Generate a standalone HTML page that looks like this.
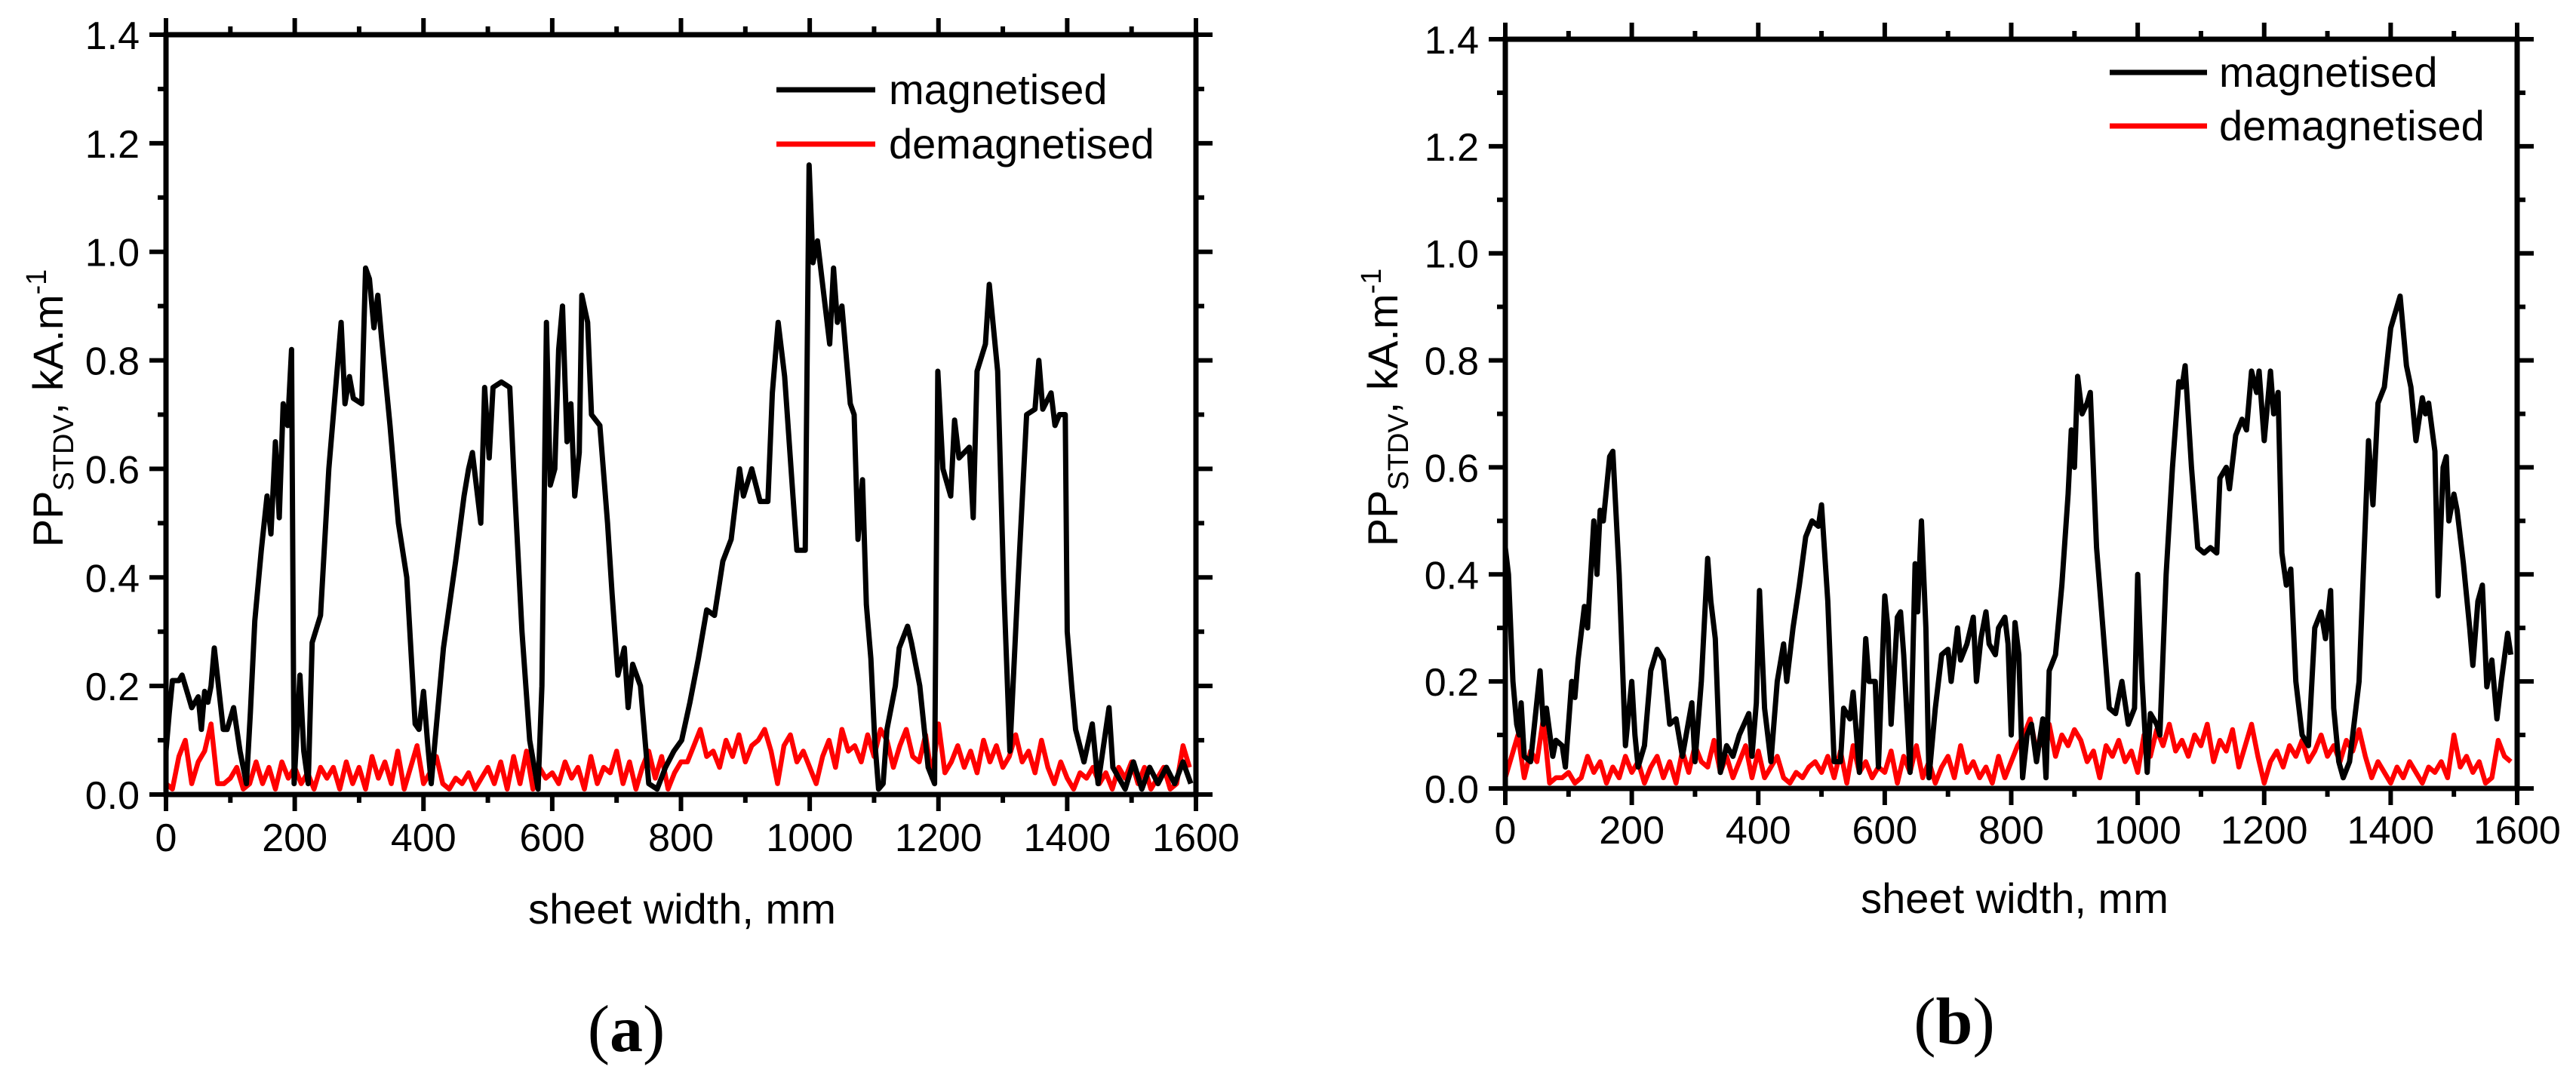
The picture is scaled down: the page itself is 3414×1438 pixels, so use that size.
<!DOCTYPE html>
<html><head><meta charset="utf-8"><style>
html,body{margin:0;padding:0;background:#fff;}
svg{display:block;}
text{font-family:"Liberation Sans",sans-serif;fill:#000;}
</style></head><body>
<svg id="fig" width="3414" height="1438" viewBox="0 0 3414 1438" xmlns="http://www.w3.org/2000/svg"></svg>
<script>
// ---------- Panel (a) data ----------
const aMagX = [0,5,10,20,25,35,40,50,55,60,65,70,75,89,95,105,115,125,131,138,148,157,163,170,176,182,189,195,199,208,214,221,227,240,253,265,272,278,285,291,304,310,316,323,329,335,348,361,374,387,393,400,406,412,418,431,444,450,463,470,476,489,495,502,508,521,534,540,553,565,578,584,591,597,604,610,616,623,629,635,642,646,655,661,674,686,693,702,712,718,725,737,750,763,776,789,801,814,827,840,852,865,878,891,897,910,923,935,942,951,961,974,980,993,999,1005,1012,1024,1031,1037,1043,1050,1063,1069,1075,1082,1088,1095,1101,1107,1114,1120,1133,1139,1152,1158,1171,1184,1194,1199,1207,1219,1225,1232,1248,1254,1260,1273,1279,1292,1301,1311,1324,1337,1350,1356,1362,1375,1381,1388,1397,1400,1407,1413,1426,1439,1448,1465,1471,1490,1503,1516,1528,1541,1554,1567,1580,1592];
const aMag = [0.08,0.15,0.21,0.21,0.22,0.18,0.16,0.18,0.12,0.19,0.17,0.2,0.27,0.12,0.12,0.16,0.08,0.02,0.15,0.32,0.45,0.55,0.48,0.65,0.51,0.72,0.68,0.82,0.02,0.22,0.08,0.02,0.28,0.33,0.6,0.77,0.87,0.72,0.77,0.73,0.72,0.97,0.95,0.86,0.92,0.84,0.68,0.5,0.4,0.13,0.12,0.19,0.1,0.02,0.1,0.27,0.38,0.43,0.55,0.6,0.63,0.5,0.75,0.62,0.75,0.76,0.75,0.6,0.3,0.1,0.01,0.2,0.87,0.57,0.6,0.82,0.9,0.65,0.72,0.55,0.63,0.92,0.87,0.7,0.68,0.5,0.37,0.22,0.27,0.16,0.24,0.2,0.02,0.01,0.05,0.08,0.1,0.17,0.25,0.34,0.33,0.43,0.47,0.6,0.55,0.6,0.54,0.54,0.74,0.87,0.77,0.55,0.45,0.45,1.16,0.98,1.02,0.9,0.83,0.97,0.87,0.9,0.72,0.7,0.47,0.58,0.35,0.25,0.1,0.01,0.02,0.12,0.2,0.27,0.31,0.28,0.2,0.05,0.02,0.78,0.6,0.55,0.69,0.62,0.64,0.51,0.78,0.83,0.94,0.78,0.4,0.08,0.4,0.7,0.71,0.8,0.71,0.74,0.68,0.7,0.7,0.3,0.2,0.12,0.06,0.13,0.02,0.16,0.05,0.01,0.06,0.01,0.05,0.02,0.05,0.02,0.06,0.02];
const aDemagStep = 10;
const aDemag = [0.02,0.01,0.07,0.1,0.02,0.06,0.08,0.13,0.02,0.02,0.03,
0.05,0.01,0.02,0.06,0.02,0.05,0.01,0.06,0.03,0.05,0.02,0.04,0.01,0.05,0.03,0.05,0.01,0.06,0.02,0.05,0.01,0.07,0.03,0.06,0.02,0.08,0.01,0.05,0.09,0.02,
0.04,0.07,0.02,0.01,0.03,0.02,0.04,0.01,0.03,0.05,0.02,0.06,0.01,0.07,0.02,0.08,0.01,0.05,0.03,0.04,0.02,0.06,0.03,0.05,0.01,0.07,0.02,0.05,0.04,0.08,0.02,0.06,0.01,0.05,0.08,0.03,0.07,0.01,0.04,0.06,
0.06,0.09,0.12,0.07,0.08,0.05,0.1,0.07,0.11,0.06,0.09,0.1,0.12,0.08,0.02,0.09,0.11,0.06,0.08,0.05,0.02,0.07,0.1,0.05,0.12,0.08,0.09,0.06,0.11,0.07,0.12,0.1,0.05,0.09,0.12,0.07,0.06,0.11,0.03,0.13,
0.04,0.06,0.09,0.05,0.08,0.04,0.1,0.06,0.09,0.05,0.07,0.11,0.06,0.08,0.04,0.1,0.05,0.02,0.06,0.03,0.01,0.04,0.03,0.05,0.02,0.04,0.01,0.05,0.03,0.06,0.02,0.05,0.01,0.03,0.05,0.01,0.02,0.09,0.05];

// ---------- Panel (b) data ----------
const bMagX = [0,5,12,18,22,25,30,40,55,60,65,75,80,90,95,105,110,115,125,130,140,145,150,155,165,170,180,190,200,205,210,220,230,240,250,260,270,280,295,300,310,320,325,332,340,350,360,370,385,390,397,402,410,420,430,440,445,455,465,475,485,495,500,510,520,530,535,545,550,560,570,575,585,590,600,605,610,620,625,630,640,648,652,658,665,670,680,690,700,705,715,720,730,740,745,752,760,765,775,780,790,795,800,806,812,818,825,832,840,850,855,860,870,880,890,895,900,905,912,920,925,935,945,955,965,975,985,995,1000,1007,1015,1020,1030,1035,1045,1055,1065,1070,1075,1085,1095,1105,1115,1125,1130,1140,1145,1155,1165,1172,1180,1188,1192,1200,1210,1215,1222,1228,1235,1242,1250,1260,1270,1280,1290,1297,1305,1310,1318,1325,1335,1350,1365,1372,1380,1390,1400,1415,1425,1432,1440,1450,1455,1460,1470,1475,1483,1488,1492,1500,1505,1515,1525,1530,1538,1545,1552,1560,1568,1575,1585,1590];
const bMag = [0.45,0.4,0.2,0.12,0.1,0.16,0.06,0.05,0.22,0.12,0.15,0.06,0.09,0.08,0.04,0.2,0.17,0.24,0.34,0.3,0.5,0.4,0.52,0.5,0.62,0.63,0.4,0.08,0.2,0.1,0.04,0.08,0.22,0.26,0.24,0.12,0.13,0.06,0.16,0.05,0.2,0.43,0.35,0.28,0.03,0.08,0.06,0.1,0.14,0.06,0.16,0.37,0.15,0.05,0.2,0.27,0.2,0.3,0.38,0.47,0.5,0.49,0.53,0.35,0.05,0.05,0.15,0.13,0.18,0.03,0.28,0.2,0.2,0.04,0.36,0.3,0.12,0.32,0.33,0.25,0.03,0.42,0.33,0.5,0.3,0.02,0.15,0.25,0.26,0.2,0.3,0.24,0.27,0.32,0.2,0.28,0.33,0.27,0.25,0.3,0.32,0.27,0.1,0.31,0.25,0.02,0.1,0.12,0.05,0.13,0.02,0.22,0.25,0.38,0.55,0.67,0.6,0.77,0.7,0.72,0.74,0.45,0.3,0.15,0.14,0.2,0.12,0.15,0.4,0.2,0.03,0.14,0.12,0.1,0.4,0.6,0.76,0.75,0.79,0.6,0.45,0.44,0.45,0.44,0.58,0.6,0.56,0.66,0.69,0.67,0.78,0.74,0.78,0.65,0.78,0.7,0.74,0.44,0.38,0.41,0.2,0.1,0.08,0.3,0.33,0.28,0.37,0.15,0.05,0.02,0.05,0.2,0.65,0.53,0.72,0.75,0.86,0.92,0.79,0.75,0.65,0.73,0.7,0.72,0.63,0.36,0.6,0.62,0.5,0.55,0.52,0.42,0.3,0.23,0.35,0.38,0.19,0.24,0.13,0.2,0.29,0.25,0.05];
const bDemagStep = 10;
const bDemag = [0.02,0.06,0.1,0.02,0.07,0.05,0.13,0.01,0.02,0.02,0.03,
0.01,0.02,0.06,0.03,0.05,0.01,0.04,0.02,0.06,0.03,0.05,0.01,0.04,0.06,0.02,0.05,0.01,0.07,0.03,0.08,0.05,0.04,0.09,0.03,0.06,0.02,0.05,0.08,0.02,0.07,
0.02,0.04,0.06,0.02,0.01,0.03,0.02,0.04,0.05,0.03,0.06,0.02,0.07,0.01,0.08,0.03,0.05,0.02,0.04,0.03,0.07,0.01,0.06,0.03,0.08,0.02,0.05,0.01,0.04,0.06,0.02,0.08,0.03,0.05,0.02,0.04,0.01,0.06,0.02,0.05,
0.08,0.1,0.13,0.07,0.09,0.12,0.06,0.1,0.08,0.11,0.09,0.05,0.07,0.02,0.08,0.06,0.09,0.05,0.07,0.03,0.1,0.06,0.11,0.08,0.12,0.07,0.09,0.06,0.1,0.08,0.12,0.05,0.09,0.07,0.11,0.04,0.08,0.12,0.06,0.01,
0.05,0.07,0.04,0.08,0.06,0.09,0.05,0.07,0.1,0.06,0.08,0.05,0.09,0.07,0.11,0.06,0.02,0.05,0.03,0.01,0.04,0.02,0.05,0.03,0.01,0.04,0.03,0.05,0.02,0.1,0.04,0.06,0.03,0.05,0.01,0.02,0.09,0.06,0.05];

const xTicks = [0,200,400,600,800,1000,1200,1400,1600];
const yTicks = [0.0,0.2,0.4,0.6,0.8,1.0,1.2,1.4];
const legendLabels = ["magnetised","demagnetised"];

const NS = "http://www.w3.org/2000/svg";
const svg = document.getElementById('fig');
function mk(tag, attrs, parent, txt){
  const e = document.createElementNS(NS, tag);
  for (const k in attrs) e.setAttribute(k, attrs[k]);
  if (txt !== undefined) e.textContent = txt;
  (parent||svg).appendChild(e);
  return e;
}

function panel(P){
  const g = mk('g', {});
  
  
  const sx = v => P.L + (v/1600)*(P.R-P.L);
  const sy = v => P.B - (v/1.4)*(P.B-P.T);

  const dpts = P.demag.map((v,i)=> sx(i*P.step).toFixed(1)+','+sy(v).toFixed(1)).join(' ');
  const red = mk('polyline', {points:dpts, fill:'none', stroke:'#ff0000', 'stroke-width':6.5, 'stroke-linejoin':'round'}, g);
  
  
  const mpts = P.magX.map((x,i)=> sx(x).toFixed(1)+','+sy(P.mag[i]).toFixed(1)).join(' ');
  const blk = mk('polyline', {points:mpts, fill:'none', stroke:'#000', 'stroke-width':7, 'stroke-linejoin':'round'}, g);
  
  

  const fr = mk('rect', {x:P.L, y:P.T, width:P.R-P.L, height:P.B-P.T, fill:'none', stroke:'#000', 'stroke-width':7}, g);
  
  

  for (let v=0; v<=1600; v+=100){
    const major = v % 200 === 0, len = major?22:11, x = sx(v);
    mk('line',{x1:x,y1:P.B,x2:x,y2:P.B+len,stroke:'#000','stroke-width':6},g);
    mk('line',{x1:x,y1:P.T,x2:x,y2:P.T-len,stroke:'#000','stroke-width':6},g);
  }
  for (let k=0; k<=14; k++){
    const v = k/10, major = k%2===0, len = major?22:11, y = sy(v);
    mk('line',{x1:P.L,y1:y,x2:P.L-len,y2:y,stroke:'#000','stroke-width':6},g);
    mk('line',{x1:P.R,y1:y,x2:P.R+len,y2:y,stroke:'#000','stroke-width':6},g);
  }
  xTicks.forEach(v=>{
    const t = mk('text',{x:sx(v), y:P.xLabY, 'font-size':52, 'text-anchor':'middle'}, g, String(v));
    
    
  });
  yTicks.forEach(v=>{
    const t = mk('text',{x:P.L-35, y:sy(v)+19, 'font-size':52, 'text-anchor':'end'}, g, v.toFixed(1));
    
    
  });

  const xt = mk('text',{x:P.xtX, y:P.xtY, 'font-size':56, 'text-anchor':'middle'}, g, 'sheet width, mm');
  
  
  const yt = mk('text',{x:0, y:0, 'font-size':56, 'text-anchor':'middle', transform:'translate('+P.ytX+','+P.ytY+') rotate(-90)'}, g);
  
  
  mk('tspan',{},yt,'PP');
  mk('tspan',{'font-size':38, dy:14},yt,'STDV');
  mk('tspan',{dy:-14},yt,', kA.m');
  mk('tspan',{'font-size':38, dy:-22},yt,'-1');

  const colors = ['#000','#ff0000'];
  legendLabels.forEach((lab,i)=>{
    const lg = mk('g',{},g);
    
    
    const ly = P.legY + i*P.legDy;
    mk('line',{x1:P.legX1, y1:ly, x2:P.legX2, y2:ly, stroke:colors[i], 'stroke-width':7}, lg);
    mk('text',{x:P.legTx, y:ly+19, 'font-size':56}, lg, lab);
  });

  const cap = mk('text',{x:P.capX, y:P.capY, 'font-size':88, 'text-anchor':'middle', style:'font-family:"Liberation Serif",serif'}, g);
  
  
  mk('tspan',{},cap,'(');
  mk('tspan',{'font-weight':'bold'},cap,P.id);
  mk('tspan',{},cap,')');
}

panel({id:'a', L:220, R:1585, T:46, B:1053, magX:aMagX, mag:aMag, demag:aDemag, step:aDemagStep,
  xLabY:1128, xtX:904, xtY:1224, ytX:83, ytY:541,
  legX1:1029, legX2:1160, legTx:1178, legY:119, legDy:72, capX:830, capY:1393});
panel({id:'b', L:1995, R:3336, T:52, B:1045, magX:bMagX, mag:bMag, demag:bDemag, step:bDemagStep,
  xLabY:1118, xtX:2670, xtY:1210, ytX:1852, ytY:540,
  legX1:2796, legX2:2925, legTx:2941, legY:96, legDy:71, capX:2590, capY:1383});
</script>
</body></html>
